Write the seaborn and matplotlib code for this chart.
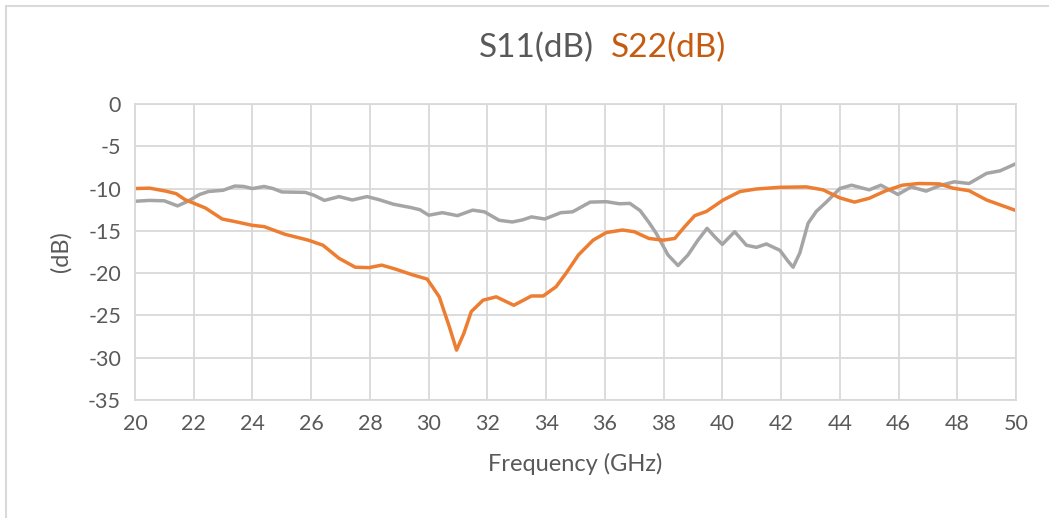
import numpy as np
import pandas as pd
import seaborn as sns
import matplotlib.pyplot as plt
from matplotlib.patches import Rectangle

# ================================
# Data
# ================================
s11_freq = [20.0, 20.5, 21.0, 21.45, 21.8, 22.2, 22.5, 23.0, 23.4, 23.7, 24.0, 24.4,
            24.7, 25.0, 25.8, 26.1, 26.45, 26.95, 27.4, 27.9, 28.3, 28.8, 29.4, 29.7,
            30.0, 30.47, 30.98, 31.5, 31.9, 32.4, 32.85, 33.2, 33.5, 33.95, 34.5, 34.9,
            35.5, 36.05, 36.5, 36.85, 37.2, 37.5, 37.75, 38.15, 38.49, 38.83, 39.17, 39.48,
            39.74, 40.0, 40.42, 40.82, 41.16, 41.5, 41.96, 42.24, 42.41, 42.64, 42.92, 43.2,
            43.54, 44.0, 44.4, 45.0, 45.4, 45.98, 46.43, 46.94, 47.4, 47.9, 48.4, 49.0,
            49.46, 50.0]
s11_db = [-11.5, -11.4, -11.45, -12.05, -11.5, -10.7, -10.35, -10.2, -9.7, -9.75, -10.0, -9.75,
          -10.0, -10.4, -10.45, -10.8, -11.4, -10.95, -11.35, -10.95, -11.3, -11.85, -12.25, -12.5,
          -13.15, -12.85, -13.2, -12.55, -12.75, -13.75, -13.95, -13.7, -13.35, -13.6, -12.85, -12.75,
          -11.6, -11.55, -11.8, -11.75, -12.6, -14.0, -15.3, -17.85, -19.1, -17.85, -16.1, -14.7,
          -15.7, -16.6, -15.1, -16.7, -16.95, -16.55, -17.3, -18.6, -19.3, -17.6, -14.1, -12.7,
          -11.6, -10.0, -9.6, -10.15, -9.6, -10.7, -9.8, -10.3, -9.65, -9.2, -9.4, -8.2,
          -7.9, -7.05]

s22_freq = [20.0, 20.5, 21.05, 21.4, 21.7, 22.4, 22.97, 23.4, 24.0, 24.4, 25.1, 25.9,
            26.4, 26.95, 27.5, 27.97, 28.4, 28.85, 29.45, 29.95, 30.36, 30.7, 30.95, 31.2,
            31.45, 31.85, 32.3, 32.6, 32.9, 33.5, 33.9, 34.34, 34.68, 35.1, 35.6, 36.05,
            36.6, 37.0, 37.5, 37.98, 38.38, 38.72, 39.06, 39.46, 40.03, 40.6, 41.16, 41.96,
            42.86, 43.43, 44.0, 44.5, 45.0, 45.57, 46.13, 46.7, 47.4, 47.85, 48.4, 49.0, 50.0]
s22_db = [-10.0, -9.95, -10.3, -10.6, -11.3, -12.3, -13.6, -13.9, -14.35, -14.5, -15.4, -16.1,
          -16.7, -18.25, -19.3, -19.35, -19.05, -19.5, -20.2, -20.7, -22.8, -26.3, -29.1, -27.1,
          -24.55, -23.2, -22.8, -23.3, -23.8, -22.7, -22.7, -21.6, -20.0, -17.85, -16.1, -15.2,
          -14.9, -15.1, -15.9, -16.1, -15.9, -14.5, -13.2, -12.7, -11.35, -10.35, -10.05, -9.85,
          -9.8, -10.15, -11.1, -11.6, -11.15, -10.25, -9.6, -9.4, -9.45, -9.95, -10.25, -11.35, -12.6]

series_names = ["S11(dB)", "S22(dB)"]
x_ticks = list(range(20, 51, 2))
y_ticks = list(range(-35, 1, 5))

df = pd.concat([
    pd.DataFrame({"freq": s11_freq, "db": s11_db, "series": series_names[0]}),
    pd.DataFrame({"freq": s22_freq, "db": s22_db, "series": series_names[1]}),
])

# ================================
# Plot
# ================================
sns.set_style("white")
plt.rcParams["font.family"] = ["Lato", "DejaVu Sans"]
plt.rcParams["axes.unicode_minus"] = False

text_col = "#595959"
grid_col = "#d9d9d9"

fig = plt.figure(figsize=(10.49, 5.18), dpi=100)
ax = fig.add_axes([135 / 1049, 1 - 400 / 518, 881 / 1049, 296 / 518])

sns.lineplot(data=df, x="freq", y="db", hue="series", sort=False,
             palette={"S11(dB)": "#a5a5a5", "S22(dB)": "#ed7d31"},
             linewidth=2.5, legend=False, ax=ax,
             solid_joinstyle="round", solid_capstyle="round")

ax.set_xlim(20, 50)
ax.set_ylim(-35, 0)
ax.set_xticks(x_ticks)
ax.set_yticks(y_ticks)
ax.grid(True, color=grid_col, linewidth=1.3)
ax.set_axisbelow(True)
for sp in ax.spines.values():
    sp.set_color(grid_col)
    sp.set_linewidth(1.3)
ax.tick_params(length=0, labelsize=15.5, labelcolor=text_col, pad=10)

ax.set_xlabel("Frequency (GHz)", fontsize=17, color=text_col, labelpad=14)
ax.set_ylabel("(dB)", fontsize=17, color=text_col, labelpad=12)

# title acting as legend
fig.text(594 / 1049, 1 - 48 / 518, "S11(dB)", ha="right", va="center",
         fontsize=24, color=text_col)
fig.text(611 / 1049, 1 - 48 / 518, "S22(dB)", ha="left", va="center",
         fontsize=24, color="#c55a11")

# chart border
fig.patches.append(Rectangle((6 / 1049, -0.1), 1.2, 1 - 6 / 518 + 0.1,
                             transform=fig.transFigure, fill=False,
                             edgecolor="#d9d9d9", linewidth=1.5))

plt.savefig("out.png", dpi=100)
plt.close()
